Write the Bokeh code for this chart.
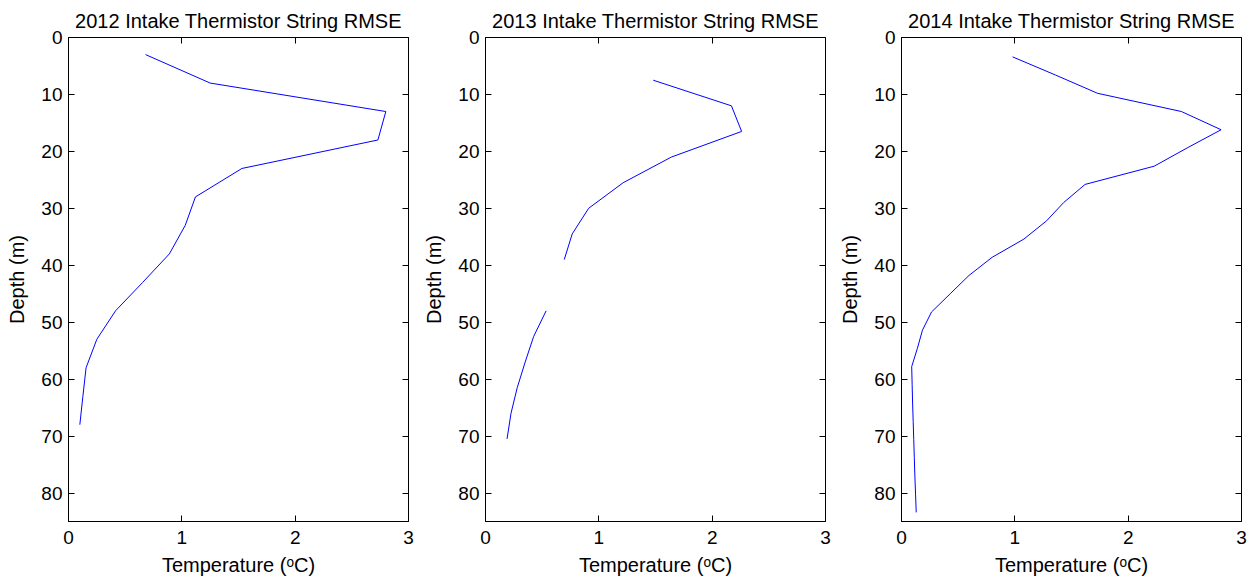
from bokeh.plotting import figure
from bokeh.layouts import row
from bokeh.models import Range1d, LinearAxis, FixedTicker
from bokeh.embed import file_html
from bokeh.resources import INLINE

titles = ["2012 Intake Thermistor String RMSE",
          "2013 Intake Thermistor String RMSE",
          "2014 Intake Thermistor String RMSE"]

depth_2012 = [3, 8, 13, 18, 23, 28, 33, 38, 43, 48, 53, 58, 63, 68]
rmse_2012 = [0.68, 1.25, 2.80, 2.73, 1.53, 1.12, 1.03, 0.89, 0.655, 0.415,
             0.25, 0.155, 0.127, 0.10]

depth_2013 = [7.5, 12, 16.5, 21, 25.5, 30, 34.5, 39, 43.5, 48, 52.5, 57,
              61.5, 66, 70.5]
rmse_2013 = [1.48, 2.17, 2.26, 1.64, 1.215, 0.91, 0.765, 0.695, float("nan"),
             0.535, 0.425, 0.35, 0.28, 0.225, 0.19]

depth_2014 = [3.4, 6.6, 9.8, 13.0, 16.2, 19.4, 22.6, 25.8, 29.0, 32.2, 35.4,
              38.6, 41.8, 45.0, 48.2, 51.4, 54.6, 57.8, 61.0, 64.2, 67.4,
              70.6, 73.8, 77.0, 80.2, 83.4]
rmse_2014 = [0.98, 1.36, 1.73, 2.47, 2.82, 2.52, 2.23, 1.62, 1.43, 1.28,
             1.08, 0.80, 0.595, 0.43, 0.265, 0.185, 0.14, 0.09, 0.094, 0.098,
             0.103, 0.108, 0.113, 0.118, 0.124, 0.13]

x_ticks = [0, 1, 2, 3]
y_ticks = [0, 10, 20, 30, 40, 50, 60, 70, 80]

FONT = "Liberation Sans"
series = [(depth_2012, rmse_2012), (depth_2013, rmse_2013), (depth_2014, rmse_2014)]
borders = [(68, 9), (68, 9), (67, 10)]

figs = []
for (d, t), title, (bl, br) in zip(series, titles, borders):
    p = figure(frame_width=340, frame_height=484, output_backend="svg",
               toolbar_location=None, x_range=Range1d(0, 3),
               y_range=Range1d(85, 0), title=title,
               min_border_left=bl, min_border_right=br,
               min_border_top=37, min_border_bottom=67)
    p.title.align = "center"
    p.title.text_font = FONT
    p.title.text_font_size = "20px"
    p.title.text_font_style = "normal"
    p.title.text_color = "black"
    p.title.standoff = 11
    p.grid.visible = False
    p.outline_line_color = "black"
    p.outline_line_width = 1
    p.line(t, d, line_color="blue", line_width=1)

    p.xaxis.axis_label = "Temperature (ᵒC)"
    p.yaxis.axis_label = "Depth (m)"
    for ax in [p.xaxis[0], p.yaxis[0]]:
        ax.axis_label_text_font = FONT
        ax.axis_label_text_font_size = "20px"
        ax.axis_label_text_font_style = "normal"
        ax.major_label_text_font = FONT
        ax.major_label_text_font_size = "19px"
        ax.major_tick_in = 6
        ax.major_tick_out = 0
        ax.minor_tick_line_color = None
        ax.axis_line_color = "black"
        ax.major_tick_line_color = "black"
        ax.major_label_text_color = "black"
        ax.axis_label_text_color = "black"
    p.xaxis[0].ticker = FixedTicker(ticks=x_ticks)
    p.yaxis[0].ticker = FixedTicker(ticks=y_ticks)
    p.xaxis[0].major_label_standoff = 9
    p.yaxis[0].major_label_standoff = 6
    p.xaxis[0].axis_label_standoff = 7
    p.yaxis[0].axis_label_standoff = 10

    top = LinearAxis(ticker=FixedTicker(ticks=x_ticks), major_label_text_color=None,
                     major_tick_in=6, major_tick_out=0, minor_tick_line_color=None,
                     axis_line_color=None, major_label_standoff=0)
    right = LinearAxis(ticker=FixedTicker(ticks=y_ticks), major_label_text_color=None,
                       major_tick_in=6, major_tick_out=0, minor_tick_line_color=None,
                       axis_line_color=None, major_label_standoff=0)
    p.add_layout(top, "above")
    p.add_layout(right, "right")
    figs.append(p)

layout = row(*figs, spacing=0)
open("out.html", "w").write(file_html(layout, INLINE))
